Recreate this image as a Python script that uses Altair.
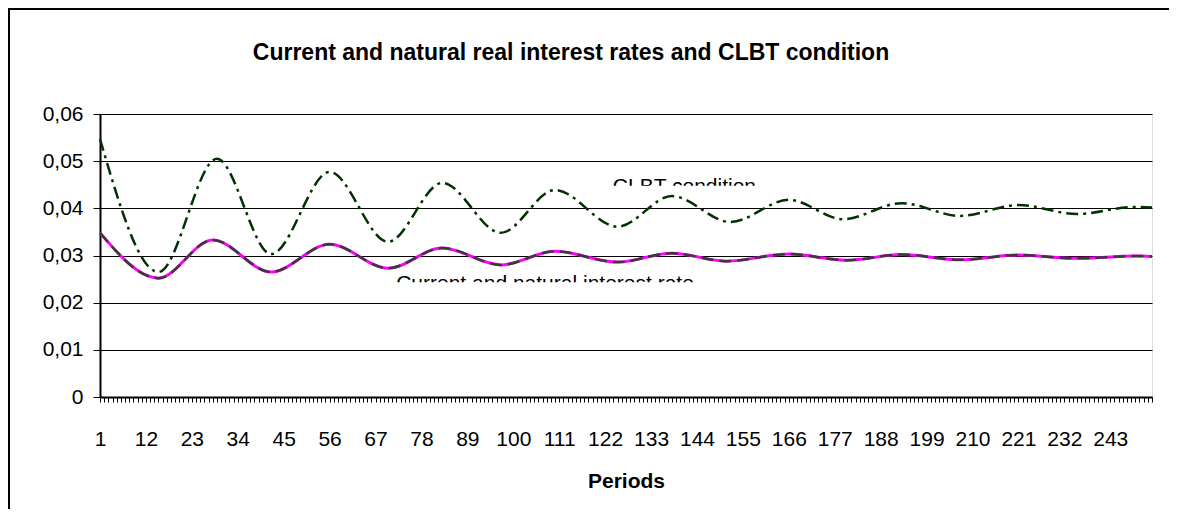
import altair as alt
import pandas as pd

# ---- data (key points: start, turning points, end) ----
clbt_periods = [1, 15, 29, 42, 56, 70, 83, 97, 110, 125, 138, 152, 166, 179, 193, 207, 221, 235, 249, 253]
clbt_values = [0.0547, 0.0265, 0.0505, 0.0303, 0.0477, 0.0329, 0.0454, 0.0348, 0.0439, 0.0361,
               0.0426, 0.0371, 0.0418, 0.0377, 0.0411, 0.0384, 0.0407, 0.0388, 0.0403, 0.0402]

rate_periods = [1, 15, 28, 42, 56, 70, 83, 97, 110, 125, 138, 151, 166, 180, 193, 207, 221, 235, 249, 253]
current_values = [0.0348, 0.0252, 0.0333, 0.0265, 0.0324, 0.0273, 0.0316, 0.0280, 0.0309, 0.0286,
                  0.0305, 0.0288, 0.0303, 0.0290, 0.0302, 0.0291, 0.0301, 0.0294, 0.0299, 0.0298]
natural_values = [0.0348, 0.0252, 0.0333, 0.0265, 0.0324, 0.0273, 0.0316, 0.0280, 0.0309, 0.0286,
                  0.0305, 0.0288, 0.0303, 0.0290, 0.0302, 0.0291, 0.0301, 0.0294, 0.0299, 0.0298]

first_period = 1
last_period = 253
x_tick_labels = [1, 12, 23, 34, 45, 56, 67, 78, 89, 100, 111, 122, 133, 144, 155, 166, 177, 188, 199, 210, 221, 232, 243]
y_ticks = [0, 0.01, 0.02, 0.03, 0.04, 0.05, 0.06]

title_text = "Current and natural real interest rates and CLBT condition"
x_title = "Periods"
label_texts = ["CLBT condition", "Current and natural interest rate"]
label_periods = [141, 107.6]
label_values = [0.04325, 0.02268]
# extent of the clipped text boxes (the reference shows only the top part of these labels)
clip_x1 = [121, 69]
clip_x2 = [161, 147]
clip_y1 = [0.0448, 0.02435]
clip_y2 = [0.0426, 0.0214]

FONT = "Liberation Sans"

clbt_df = pd.DataFrame({"period": clbt_periods, "value": clbt_values})
cur_df = pd.DataFrame({"period": rate_periods, "value": current_values})
nat_df = pd.DataFrame({"period": rate_periods, "value": natural_values})
lab_df = pd.DataFrame({"period": label_periods, "value": label_values, "text": label_texts})
clip_df = pd.DataFrame({"x1": clip_x1, "x2": clip_x2, "y1": clip_y1, "y2": clip_y2})
one_df = pd.DataFrame({"k": [0]})

x_scale = alt.Scale(domain=[first_period, last_period], nice=False, zero=False)
y_scale = alt.Scale(domain=[0, 0.06], nice=False, zero=True)

label_list = "[" + ",".join(str(v) for v in x_tick_labels) + "]"
x_axis = alt.Axis(
    values=list(range(first_period, last_period + 1)),
    labelExpr=f"indexof({label_list}, datum.value) >= 0 ? datum.value + '' : ''",
    labelOverlap=False,
    labelFlush=False,
    grid=False,
    tickSize=5,
    tickWidth=1,
    tickColor="black",
    domainColor="black",
    domainWidth=2,
    labelFontSize=21,
    labelFont=FONT,
    labelColor="black",
    labelPadding=26,
    titleFont=FONT,
    titleFontSize=21,
    titleFontWeight="bold",
    titleColor="black",
    titleBaseline="alphabetic",
    titleY=90,
)
y_axis = alt.Axis(
    values=y_ticks,
    labelExpr="datum.value == 0 ? '0' : replace(format(datum.value, '.2f'), '.', ',')",
    grid=True,
    gridColor="black",
    gridWidth=1,
    tickSize=7,
    tickColor="black",
    domainColor="black",
    domainWidth=2,
    labelFontSize=21,
    labelFont=FONT,
    labelColor="black",
    labelPadding=10,
    labelFlush=False,
)


def X(field):
    return alt.X(field, type="quantitative", scale=x_scale, axis=x_axis, title=x_title)


def Y(field):
    return alt.Y(field, type="quantitative", scale=y_scale, axis=y_axis, title=None)


# outer chart-area border (only its left and top edges are inside the picture)
frame_left = alt.Chart(one_df).mark_rule(color="black", strokeWidth=2).encode(
    x=alt.value(-91), y=alt.value(-106), y2=alt.value(395)
)
frame_top = alt.Chart(one_df).mark_rule(color="black", strokeWidth=2).encode(
    x=alt.value(-92), x2=alt.value(1069), y=alt.value(-105)
)

title = alt.Chart(one_df).mark_text(
    text=title_text, font=FONT, fontSize=23, fontWeight="bold", align="center",
    baseline="alphabetic", color="black"
).encode(x=alt.value(471), y=alt.value(-54))

labels = alt.Chart(lab_df).mark_text(
    font=FONT, fontSize=21, align="center", baseline="alphabetic", color="black"
).encode(x=X("period"), y=Y("value"), text="text:N")

clips = alt.Chart(clip_df).mark_rect(color="white").encode(
    x=X("x1"), x2="x2:Q", y=Y("y1"), y2="y2:Q"
)

current_line = alt.Chart(cur_df).mark_line(
    color="#FF00FF", strokeWidth=3, interpolate="monotone"
).encode(x=X("period"), y=Y("value"))

natural_line = alt.Chart(nat_df).mark_line(
    color="#3a3a3a", strokeWidth=2.5, strokeDash=[12, 6], interpolate="monotone"
).encode(x=X("period"), y=Y("value"))

clbt_line = alt.Chart(clbt_df).mark_line(
    color="#003300", strokeWidth=2.5, strokeDash=[12, 5, 3, 5], interpolate="monotone"
).encode(x=X("period"), y=Y("value"))

chart = alt.layer(
    frame_left, frame_top, title, labels, clips, current_line, natural_line, clbt_line
).properties(
    width=1052,
    height=283,
    autosize=alt.AutoSizeParams(type="none"),
    padding={"left": 92, "top": 106, "right": 17, "bottom": 112},
).configure_view(
    stroke="black", strokeWidth=2
).configure(background="white")

chart.save("out.html", embed_options={"renderer": "svg", "actions": False})
